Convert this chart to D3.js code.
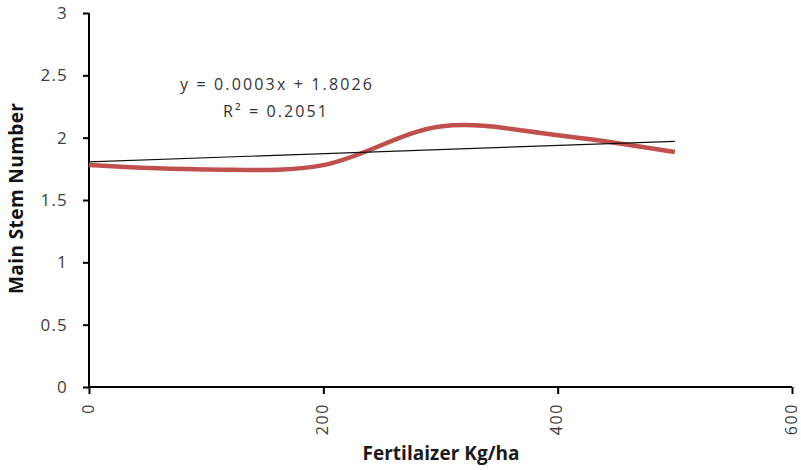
<!DOCTYPE html>
<html><head><meta charset="utf-8">
<script src="https://cdn.jsdelivr.net/npm/d3@7"></script>
<style>body{margin:0;background:#fff;}svg{display:block;font-family:"Open Sans",Lato,sans-serif;}</style>
</head><body>
<svg id="c" width="801" height="470"></svg>
<script>
const fertilizer = [0, 100, 200, 300, 400, 500];
const stemNumber = [1.78, 1.745, 1.78, 2.09, 2.02, 1.885];
const xTicks = [0, 200, 400, 600];
const yTicks = [0, 0.5, 1, 1.5, 2, 2.5, 3];
const trendSlope = 0.00033;
const trendIntercept = 1.806;
const trendRange = [0, 500];
const equationLines = ["y = 0.0003x + 1.8026", "R\u00B2 = 0.2051"];
const xTitle = "Fertilaizer Kg/ha";
const yTitle = "Main Stem Number";

const svg = d3.select("#c");
const x = d3.scaleLinear().domain([0, 600]).range([89, 792]);
const y = d3.scaleLinear().domain([0, 3]).range([387, 13]);
const labelColor = "#404040";

// axes
const yAxis = svg.append("g").attr("transform", "translate(89,0)")
  .call(d3.axisLeft(y).tickValues(yTicks).tickSize(6).tickPadding(15).tickFormat(d3.format("")));
yAxis.select(".domain").attr("stroke", "#000").attr("stroke-width", 2).attr("d", `M0,${y(3)}V${y(0)}`);
yAxis.selectAll(".tick line").attr("stroke", "#000").attr("stroke-width", 2);
yAxis.selectAll(".tick text").attr("font-size", 17).attr("fill", labelColor)
  .attr("font-family", "Open Sans").attr("letter-spacing", 1.2);

const xAxis = svg.append("g").attr("transform", "translate(0,387)")
  .call(d3.axisBottom(x).tickValues(xTicks).tickSize(7).tickFormat(d3.format("d")));
xAxis.select(".domain").attr("stroke", "#000").attr("stroke-width", 2).attr("d", `M${x(0)},0H${x(600)}`);
xAxis.selectAll(".tick line").attr("stroke", "#000").attr("stroke-width", 2);
xAxis.selectAll(".tick text")
  .attr("font-size", 16).attr("fill", labelColor).attr("font-family", "Open Sans")
  .attr("letter-spacing", 1.6)
  .attr("text-anchor", "end").attr("dy", "0.27em").attr("y", 0)
  .attr("transform", "translate(0,16) rotate(-90)");
svg.selectAll(".domain").attr("fill", "none");

// series
const line = d3.line().x((d, i) => x(fertilizer[i])).y(d => y(d)).curve(d3.curveCardinal.tension(0));
svg.append("path").datum(stemNumber).attr("d", line)
  .attr("fill", "none").attr("stroke", "#c0504d").attr("stroke-width", 4.5);

// trendline
svg.append("line")
  .attr("x1", x(trendRange[0])).attr("y1", y(trendIntercept + trendSlope * trendRange[0]))
  .attr("x2", x(trendRange[1])).attr("y2", y(trendIntercept + trendSlope * trendRange[1]))
  .attr("stroke", "#111").attr("stroke-width", 1.2);

// equation
svg.append("text").attr("x", 276).attr("y", 90).attr("text-anchor", "middle")
  .attr("font-size", 16).attr("fill", "#333")
  .attr("textLength", 192).attr("lengthAdjust", "spacing").text(equationLines[0]);
svg.append("text").attr("x", 275).attr("y", 117).attr("text-anchor", "middle")
  .attr("font-size", 16).attr("fill", "#333")
  .attr("textLength", 104).attr("lengthAdjust", "spacing").text(equationLines[1]);

// titles
svg.append("text").attr("x", 441).attr("y", 460).attr("text-anchor", "middle")
  .attr("font-size", 19).attr("font-weight", "bold").attr("fill", "#1a1a1a")
  .attr("textLength", 157).attr("lengthAdjust", "spacing").text(xTitle);
svg.append("text").attr("transform", "translate(23,198.5) rotate(-90)").attr("text-anchor", "middle")
  .attr("font-size", 19).attr("font-weight", "bold").attr("fill", "#111")
  .attr("textLength", 191).attr("lengthAdjust", "spacing").text(yTitle);
</script>
</body></html>
